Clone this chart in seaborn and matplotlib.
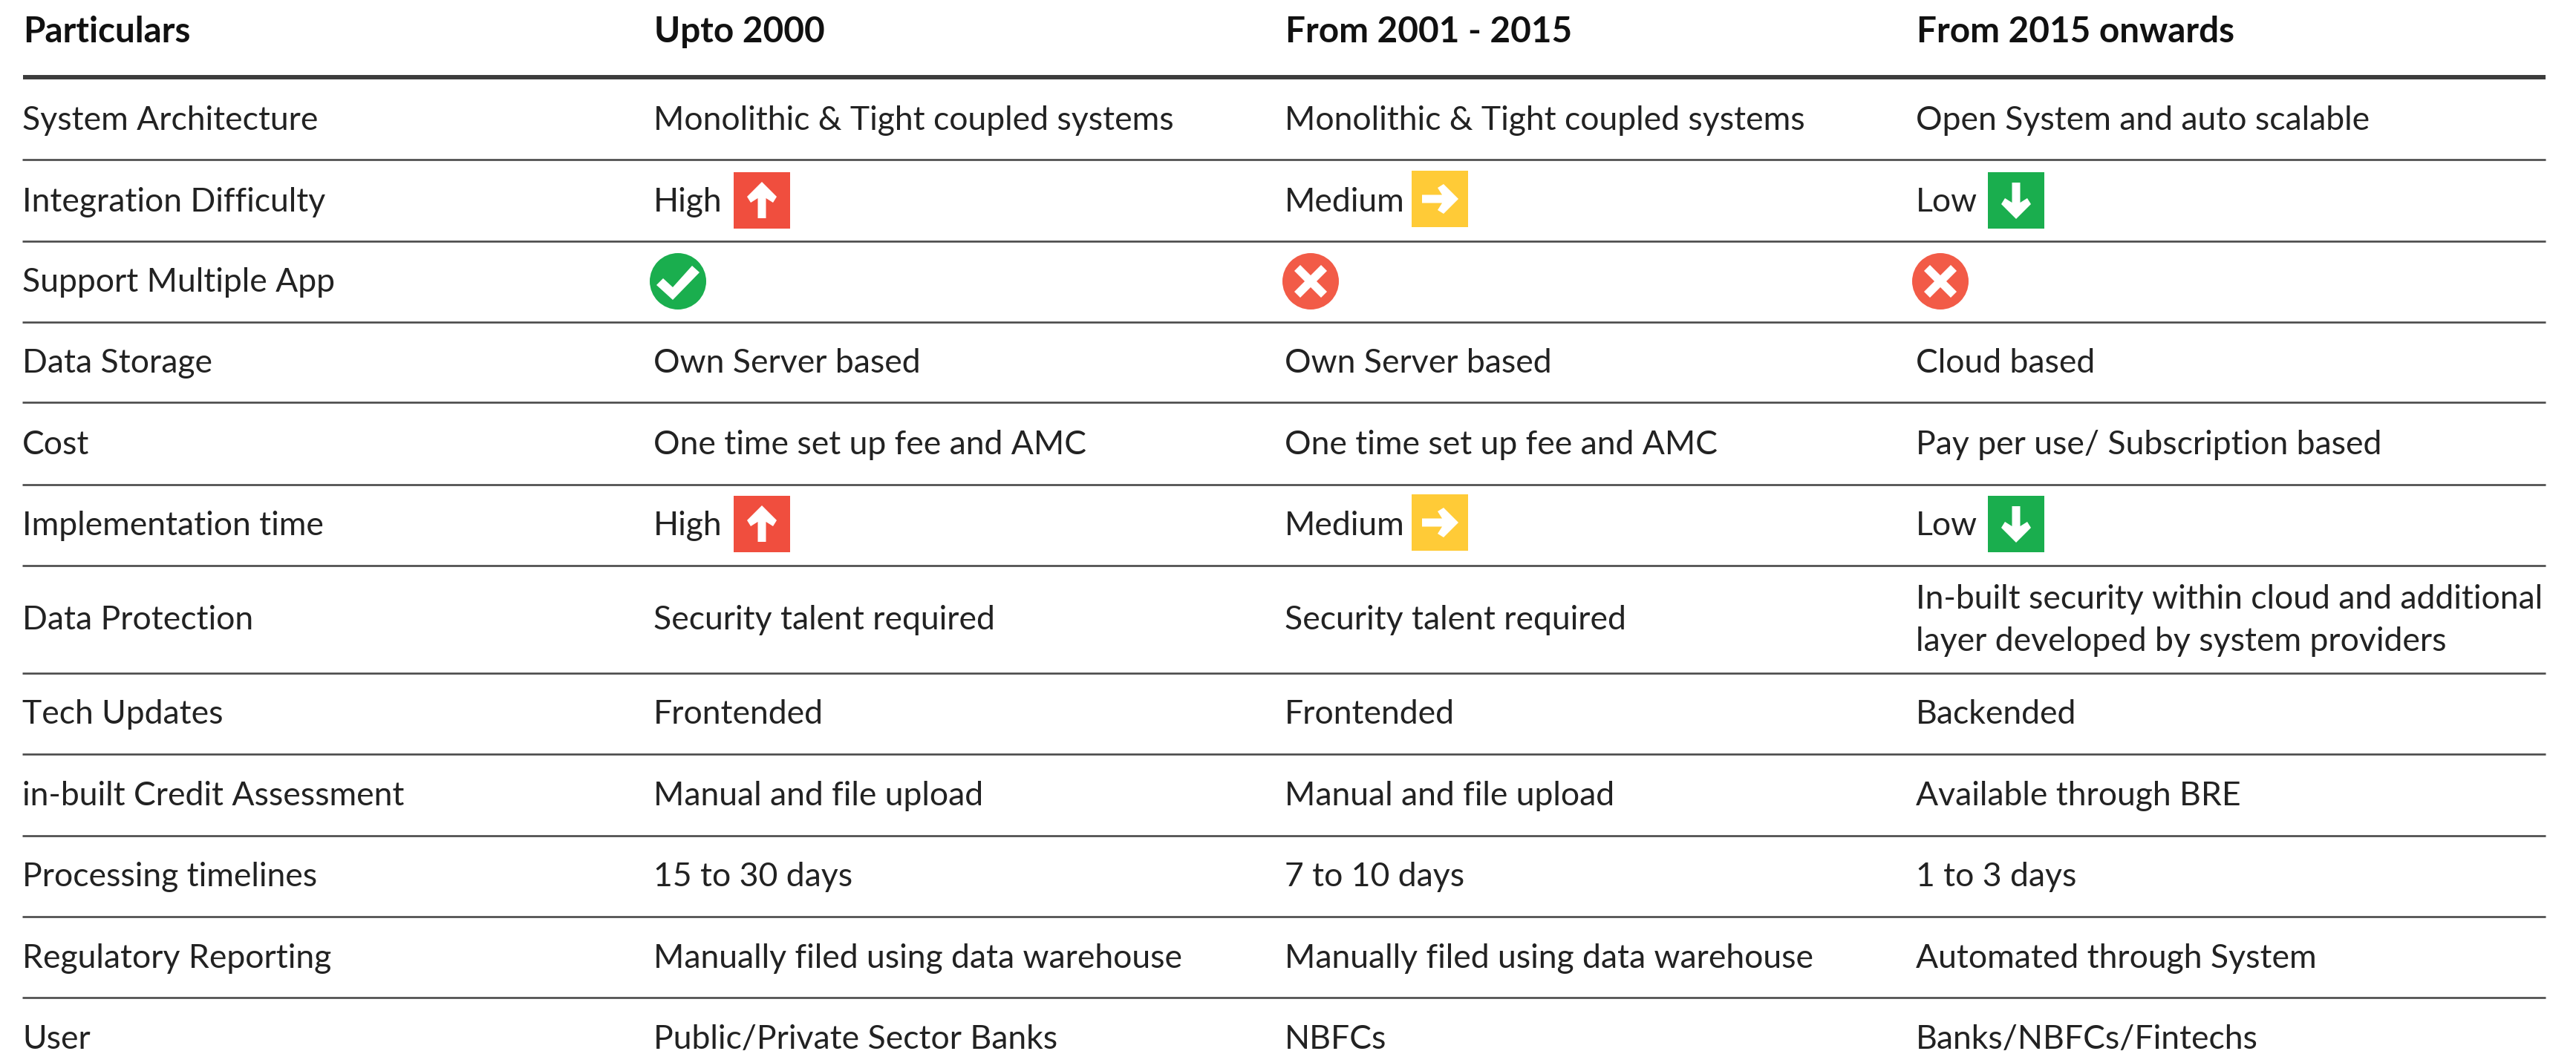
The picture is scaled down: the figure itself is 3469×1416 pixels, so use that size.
import matplotlib
matplotlib.use("Agg")
import matplotlib.pyplot as plt
from matplotlib.patches import Polygon
import pandas as pd
import seaborn as sns

# Contenu du tableau
headers = ["Particulars", "Upto 2000", "From 2001 - 2015", "From 2015 onwards"]
particulars = ["System Architecture", "Integration Difficulty", "Support Multiple App", "Data Storage", "Cost",
               "Implementation time", "Data Protection", "Tech Updates", "in-built Credit Assessment",
               "Processing timelines", "Regulatory Reporting", "User"]
upto_2000 = ["Monolithic & Tight coupled systems", "High", "", "Own Server based", "One time set up fee and AMC",
             "High", "Security talent required", "Frontended", "Manual and file upload", "15 to 30 days",
             "Manually filed using data warehouse", "Public/Private Sector Banks"]
from_2001 = ["Monolithic & Tight coupled systems", "Medium", "", "Own Server based", "One time set up fee and AMC",
             "Medium", "Security talent required", "Frontended", "Manual and file upload", "7 to 10 days",
             "Manually filed using data warehouse", "NBFCs"]
from_2015 = ["Open System and auto scalable", "Low", "", "Cloud based", "Pay per use/ Subscription based",
             "Low", "In-built security within cloud and additional\nlayer developed by system providers", "Backended",
             "Available through BRE", "1 to 3 days", "Automated through System", "Banks/NBFCs/Fintechs"]

# Icones : ligne, colonne, type
icon_rows = [1, 1, 1, 2, 2, 2, 5, 5, 5]
icon_cols = [1, 2, 3, 1, 2, 3, 1, 2, 3]
icon_kinds = ["up", "right", "down", "check", "cross", "cross", "up", "right", "down"]

# Mise en page en pixels
col_x = [30, 880, 1730, 2580]
head_x = [31, 881, 1731, 2581]
icon_x = [None, 1026, 1939, 2715]
icon_x_circle = [None, 913, 1765, 2613]
baselines = [175, 285, 393, 502, 612, 721, 848, 975, 1085, 1194, 1304, 1413]
rules = [215, 325, 434, 542, 653, 762, 907, 1016, 1126, 1235, 1344]
colors = {"up": "#f04e3e", "right": "#ffcb37", "down": "#1aae4e", "check": "#1aae4e", "cross": "#f25b47"}

sns.set_theme(style="white")
plt.rcParams['font.family'] = ['Lato', 'DejaVu Sans']

fig, ax = plt.subplots(figsize=(34.69, 14.16), dpi=100)
fig.subplots_adjust(0, 0, 1, 1)
ax.set_xlim(0, 3469)
ax.set_ylim(1416, 0)
ax.axis("off")

# Filets
ax.hlines(104, 31, 3428, color="#3c3c3c", lw=4.3)
ax.hlines(rules, 30, 3428, color="#4a4a4a", lw=1.9)

# En-tetes
for x, h in zip(head_x, headers):
    ax.text(x, 57, h, fontsize=34.3, fontweight="bold", color="#111111", va="baseline")

# Cellules
for c, col in enumerate([particulars, upto_2000, from_2001, from_2015]):
    for r, txt in enumerate(col):
        if "\n" in txt:
            for line, y in zip(txt.split("\n"), [820, 877]):
                ax.text(col_x[c], y, line, fontsize=32, color="#222222", va="baseline")
        else:
            ax.text(col_x[c], baselines[r], txt, fontsize=32, color="#222222", va="baseline")

# Fonds des icones
row_centers = {1: 270, 2: 379, 5: 706}
icons = pd.DataFrame({"row": icon_rows, "col": icon_cols, "kind": icon_kinds})
icons["y"] = icons["row"].map(row_centers)
icons["x"] = [icon_x_circle[c] if k in ("check", "cross") else icon_x[c] for c, k in zip(icons["col"], icons["kind"])]
icons.loc[icons["kind"] == "right", "y"] -= 2
sns.scatterplot(data=icons, x="x", y="y", hue="kind", style="kind", palette=colors,
                markers={"up": "s", "right": "s", "down": "s", "check": "o", "cross": "o"},
                s=(76 * 0.72) ** 2, linewidth=0, legend=False, ax=ax)

# Symboles blancs
arrow = [(-5.5, 24), (5.5, 24), (5.5, -3), (15, 3), (20, -5), (0, -25), (-20, -5), (-15, 3), (-5.5, -3)]
check = [(-29, 5), (-20, -4), (-7, 8), (19, -21), (29, -12), (-7, 25)]
cross = [(-8, 0), (-22, -14), (-14, -22), (0, -8), (14, -22), (22, -14), (8, 0), (22, 14), (14, 22), (0, 8), (-14, 22), (-22, 14)]
def glyph(kind):
    if kind == "up":
        return arrow
    if kind == "down":
        return [(x, -y) for x, y in arrow]
    if kind == "right":
        return [(-y, x) for x, y in arrow]
    return check if kind == "check" else cross

for _, row in icons.iterrows():
    pts = [(row["x"] + px, row["y"] + py) for px, py in glyph(row["kind"])]
    ax.add_patch(Polygon(pts, closed=True, facecolor="white", edgecolor="none", zorder=5))

fig.savefig("out.png", dpi=100, facecolor="white")
